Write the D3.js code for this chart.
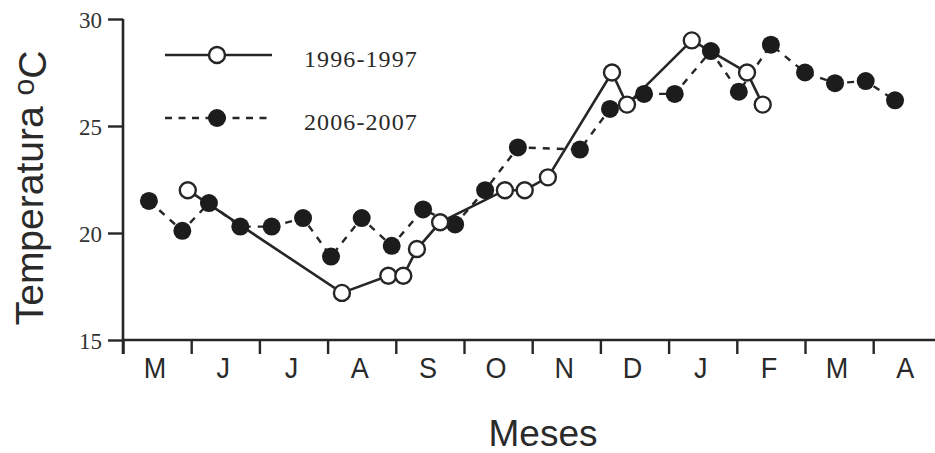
<!DOCTYPE html>
<html>
<head>
<meta charset="utf-8">
<script src="https://cdn.jsdelivr.net/npm/d3@7"></script>
<style>
  html, body { margin: 0; padding: 0; background: #ffffff; }
  svg { display: block; }
</style>
</head>
<body>
<svg id="chart" width="935" height="453"></svg>
<script>
// Month labels along the x axis (May to April)
const months = ["M", "J", "J", "A", "S", "O", "N", "D", "J", "F", "M", "A"];

// 1996-1997 sampling: position in months from 1 May, temperature in °C
const series1996Month = [0.95, 3.21, 3.89, 4.11, 4.31, 4.65, 5.60, 5.89, 6.23, 7.17, 7.39, 8.34, 9.15, 9.38];
const series1996Temp  = [22.0, 17.2, 18.0, 18.0, 19.25, 20.5, 22.0, 22.0, 22.6, 27.5, 26.0, 29.0, 27.5, 26.0];

// 2006-2007 sampling
const series2006Month = [0.38, 0.87, 1.26, 1.72, 2.18, 2.64, 3.05, 3.50, 3.94, 4.40, 4.87, 5.31,
                         5.79, 6.70, 7.14, 7.64, 8.09, 8.62, 9.03, 9.50, 10.00, 10.44, 10.89, 11.32];
const series2006Temp  = [21.5, 20.1, 21.4, 20.3, 20.3, 20.7, 18.9, 20.7, 19.4, 21.1, 20.4, 22.0,
                         24.0, 23.9, 25.8, 26.5, 26.5, 28.5, 26.6, 28.8, 27.5, 27.0, 27.1, 26.2];

const yTicks = [15, 20, 25, 30];
const legendLabels = ["1996-1997", "2006-2007"];

const ink = "#262626";
const svg = d3.select("#chart");

const x = d3.scaleLinear().domain([0, 12]).range([123, 941.4]);
const y = d3.scaleLinear().domain([15, 30]).range([340, 19]);

// ---- axes ----
const yAxis = d3.axisLeft(y).tickValues(yTicks).tickSize(15).tickPadding(6);
const gy = svg.append("g").attr("transform", `translate(${x(0)},0)`).call(yAxis);
gy.select(".domain").remove();
gy.selectAll(".tick line").attr("stroke", ink).attr("stroke-width", 2.4);
gy.selectAll(".tick text")
  .attr("fill", "#333")
  .attr("font-family", "'Liberation Serif', 'DejaVu Serif', serif")
  .attr("font-size", 23)
  .attr("dy", "0.38em");

svg.append("line")
  .attr("x1", x(0)).attr("x2", x(0))
  .attr("y1", y(30)).attr("y2", y(15) + 14)
  .attr("stroke", ink).attr("stroke-width", 2.6);

const xAxis = d3.axisBottom(x)
  .tickValues(d3.range(0, 12))
  .tickSize(14)
  .tickFormat("");
const gx = svg.append("g").attr("transform", `translate(0,${y(15)})`).call(xAxis);
gx.select(".domain").remove();
gx.selectAll(".tick line").attr("stroke", ink).attr("stroke-width", 2.4);

svg.append("line")
  .attr("x1", x(0)).attr("x2", 935)
  .attr("y1", y(15)).attr("y2", y(15))
  .attr("stroke", ink).attr("stroke-width", 2.6);

svg.append("g").selectAll("text")
  .data(months)
  .join("text")
  .attr("transform", (d, i) => `translate(${x(i + 0.5) - 2},378) scale(1,1.08)`)
  .attr("text-anchor", "middle")
  .attr("fill", "#2a2a2a")
  .attr("font-family", "'Liberation Sans', Arial, sans-serif")
  .attr("font-size", 27)
  .text(d => d);

// axis titles
svg.append("text")
  .attr("x", 543).attr("y", 446)
  .attr("text-anchor", "middle")
  .attr("fill", "#2a2a2a")
  .attr("font-family", "'Liberation Sans', Arial, sans-serif")
  .attr("font-size", 37)
  .text("Meses");

const yTitle = svg.append("text")
  .attr("transform", "translate(43,188) rotate(-90)")
  .attr("text-anchor", "middle")
  .attr("fill", "#2a2a2a")
  .attr("font-family", "'Liberation Sans', Arial, sans-serif")
  .attr("font-size", 39);
yTitle.append("tspan").text("Temperatura ");
yTitle.append("tspan").attr("dy", "-0.3em").attr("font-size", 30).text("o");
yTitle.append("tspan").attr("dy", "0.3em").text("C");

// ---- series ----
const pts1996 = series1996Month.map((m, i) => [m, series1996Temp[i]]);
const pts2006 = series2006Month.map((m, i) => [m, series2006Temp[i]]);
const line = d3.line().x(d => x(d[0])).y(d => y(d[1]));

svg.append("path")
  .attr("d", line(pts2006))
  .attr("fill", "none")
  .attr("stroke", ink)
  .attr("stroke-width", 2.4)
  .attr("stroke-dasharray", "7,7");

svg.append("path")
  .attr("d", line(pts1996))
  .attr("fill", "none")
  .attr("stroke", ink)
  .attr("stroke-width", 2.6);

svg.append("g").selectAll("circle")
  .data(pts2006)
  .join("circle")
  .attr("cx", d => x(d[0]))
  .attr("cy", d => y(d[1]))
  .attr("r", 9)
  .attr("fill", "#1c1c1c");

svg.append("g").selectAll("circle")
  .data(pts1996)
  .join("circle")
  .attr("cx", d => x(d[0]))
  .attr("cy", d => y(d[1]))
  .attr("r", 8)
  .attr("fill", "#ffffff")
  .attr("stroke", ink)
  .attr("stroke-width", 2.4);

// ---- legend ----
const legend = svg.append("g");
const rows = [55, 118];
legend.append("line")
  .attr("x1", 165).attr("x2", 272).attr("y1", rows[0]).attr("y2", rows[0])
  .attr("stroke", ink).attr("stroke-width", 2.6);
legend.append("circle")
  .attr("cx", 217).attr("cy", rows[0]).attr("r", 8)
  .attr("fill", "#fff").attr("stroke", ink).attr("stroke-width", 2.4);
legend.append("line")
  .attr("x1", 165).attr("x2", 272).attr("y1", rows[1]).attr("y2", rows[1])
  .attr("stroke", ink).attr("stroke-width", 2.4).attr("stroke-dasharray", "7,6.5");
legend.append("circle")
  .attr("cx", 217).attr("cy", rows[1]).attr("r", 9)
  .attr("fill", "#1c1c1c");

legend.selectAll("text")
  .data(legendLabels)
  .join("text")
  .attr("x", 304)
  .attr("y", (d, i) => rows[i] + 11.5)
  .attr("fill", "#2a2a2a")
  .attr("font-family", "'Liberation Serif', 'DejaVu Serif', serif")
  .attr("font-size", 24)
  .attr("letter-spacing", 1.1)
  .text(d => d);
</script>
</body>
</html>
